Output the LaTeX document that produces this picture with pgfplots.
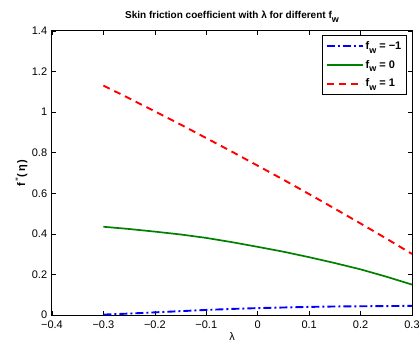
\documentclass[border=0pt]{standalone}
\usepackage{pgfplots}
\pgfplotsset{compat=1.18}
\usepackage{fontspec}
\setmainfont{Liberation Sans}
\newcommand{\fw}{f\raisebox{-3.5pt}{\fontsize{9}{9}\selectfont w}}
\begin{document}
\fontsize{11}{13}\selectfont
\begin{tikzpicture}[x=1pt,y=1pt]
\path[use as bounding box] (-52,-30) rectangle (367,315);
\begin{axis}[
  at={(0,0)}, anchor=south west,
  scale only axis, width=360pt, height=284pt,
  xmin=-0.4, xmax=0.3, ymin=0, ymax=1.4,
  xtick={-0.4,-0.3,-0.2,-0.1,0,0.1,0.2,0.3},
  xticklabels={−0.4,−0.3,−0.2,−0.1,0,0.1,0.2,0.3},
  ytick={0,0.2,0.4,0.6,0.8,1,1.2,1.4},
  yticklabels={0,0.2,0.4,0.6,0.8,1,1.2,1.4},
  tick align=inside, tick pos=both,
  major tick length=4pt,
  tick style={black, line width=0.6pt},
  axis line style={black, line width=1pt},
  ticklabel style={font=\fontsize{11}{13}\selectfont},
  xticklabel style={yshift=-2pt},
  yticklabel style={xshift=-1pt},
  xlabel={λ}, ylabel={\textbf{f\textsuperscript{\,''}(\,η\,)}},
  xlabel style={yshift=4pt},
  ylabel style={yshift=-3pt},
  title={\textbf{Skin friction coefficient with λ for different \fw}},
  title style={font=\fontsize{10}{12}\selectfont, yshift=-1pt},
  legend style={at={(0.986,0.986)}, anchor=north east, draw=black, line width=1.2pt,
    font=\fontsize{11}{13}\selectfont\bfseries, row sep=5pt, inner xsep=3pt, inner ysep=4pt},
  legend cell align=left,
  legend image code/.code={\draw[#1] (0pt,0pt) -- (36pt,0pt);},
]
\addplot[blue, line width=1.9pt, dash pattern=on 8pt off 3pt on 2pt off 3pt] coordinates {
(-0.3,0.002) (-0.25,0.007) (-0.2,0.013) (-0.15,0.019) (-0.1,0.025) (-0.05,0.030) (0,0.034) (0.05,0.037) (0.1,0.040) (0.15,0.042) (0.2,0.043) (0.25,0.044) (0.3,0.045)};
\addlegendentry{\fw\ = −1}
\addplot[green!50!black, line width=1.7pt] coordinates {
(-0.3,0.435) (-0.25,0.424) (-0.2,0.411) (-0.15,0.397) (-0.1,0.380) (-0.05,0.359) (0,0.336) (0.05,0.312) (0.1,0.285) (0.15,0.256) (0.2,0.225) (0.25,0.189) (0.3,0.150)};
\addlegendentry{\fw\ = 0}
\addplot[red, line width=1.9pt, dash pattern=on 7pt off 5pt] coordinates {
(-0.3,1.131) (-0.25,1.068) (-0.2,1.004) (-0.15,0.939) (-0.1,0.872) (-0.05,0.805) (0,0.736) (0.05,0.667) (0.1,0.596) (0.15,0.524) (0.2,0.451) (0.25,0.377) (0.3,0.301)};
\addlegendentry{\fw\ = 1}
\end{axis}
\end{tikzpicture}
\end{document}
